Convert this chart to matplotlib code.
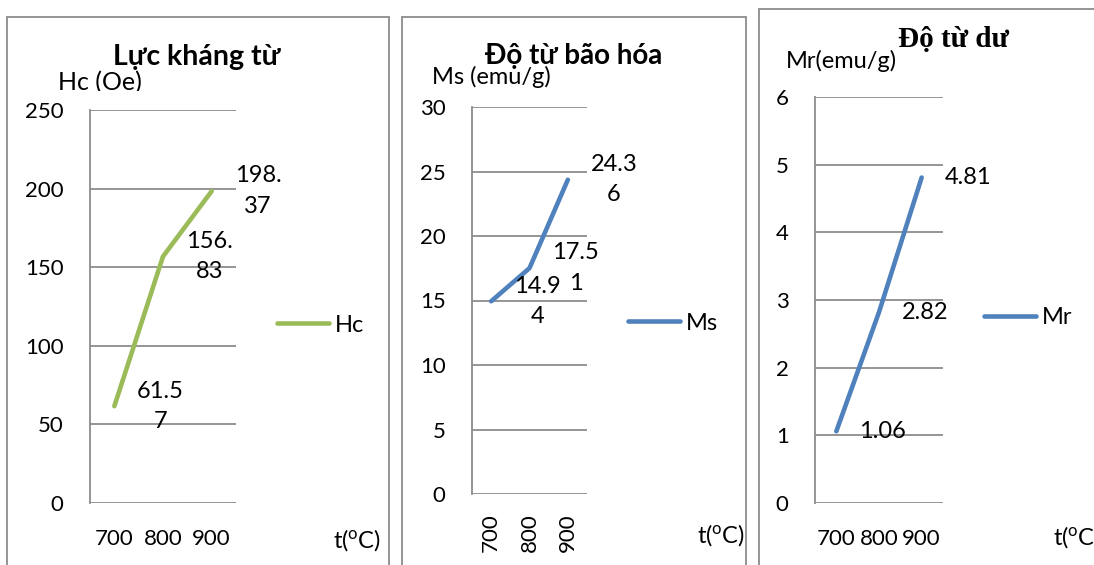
import matplotlib.pyplot as plt
from matplotlib.patches import Rectangle
from matplotlib.transforms import Bbox

plt.rcParams['font.family'] = ['Lato', 'DejaVu Sans']
plt.rcParams['mathtext.fontset'] = 'custom'
plt.rcParams['mathtext.rm'] = 'Lato'

nhiet_do = ['700', '800', '900']
hc = [61.57, 156.83, 198.37]
ms = [14.94, 17.51, 24.36]
mr = [1.06, 2.82, 4.81]

W, H = 1094, 565
fig = plt.figure(figsize=(W / 100, H / 100), dpi=100)

XAM = '#8c8c8c'
XANH_LA = '#9bbb59'
XANH = '#4f81bd'
FS = 16
FS_NHAN = 17


def khung(x0, y0, x1, y1):
    fig.patches.append(Rectangle((x0 / W, 1 - y1 / H), (x1 - x0) / W, (y1 - y0) / H,
                                 transform=fig.transFigure, fill=False, ec=XAM, lw=1.3))


def chu(x, y, s, **kw):
    return fig.text(x / W, 1 - y / H, s, **kw)


def nhan(v):
    # Excel bẻ dòng nhãn dữ liệu sau 4 ký tự
    s = f'{v:g}'
    return s if len(s) <= 4 else s[:4] + '\n' + s[4:]


def do_thi(hop, y, mau, ten, ymax, buoc, xoay=False):
    l, t, r, b = hop
    ax = fig.add_axes([l / W, 1 - b / H, (r - l) / W, (b - t) / H])
    x = range(len(nhiet_do))
    ax.plot(x, y, color=mau, lw=3.3, solid_capstyle='round', label=ten)
    for xi, yi in zip(x, y):
        ax.annotate(nhan(yi), (xi, yi), xytext=(16.5, 0), textcoords='offset points',
                    ha='left', va='center', multialignment='center',
                    fontsize=FS_NHAN, linespacing=1.55)
    ax.set_xlim(-0.5, len(nhiet_do) - 0.5)
    ax.set_ylim(0, ymax)
    ax.set_yticks(range(0, ymax + 1, buoc))
    ax.set_xticks(list(x))
    ax.set_xticklabels(nhiet_do, rotation=90 if xoay else 0)
    ax.tick_params(length=0, labelsize=FS, colors='black')
    ax.tick_params(axis='y', pad=19)
    ax.tick_params(axis='x', pad=14 if xoay else 19)
    ax.yaxis.grid(True, color=XAM, lw=1.3)
    ax.set_axisbelow(True)
    for s in ['top', 'right', 'bottom']:
        ax.spines[s].set_visible(False)
    ax.spines['left'].set_color(XAM)
    ax.spines['left'].set_linewidth(1.3)
    ax.patch.set_visible(False)
    return ax


def chu_giai(ax, x, y):
    ax.legend(loc='center left', bbox_to_anchor=(x / W, 1 - y / H), bbox_transform=fig.transFigure,
              frameon=False, fontsize=FS_NHAN, handlelength=2.2, handletextpad=0.25,
              borderpad=0, borderaxespad=0)


nhan_t = r'$\mathregular{t(^{o}C)}$'

# Lực kháng từ
khung(7, 17, 389, 580)
ax1 = do_thi((90, 110, 236, 503), hc, XANH_LA, 'Hc', 250, 50)
chu_giai(ax1, 277, 325)
t = chu(58, 90, 'Hc (Oe)', fontsize=18, va='baseline')
t.set_clip_box(Bbox.from_extents(0, H - 91, W, H))
chu(197, 57, 'Lực kháng từ', fontsize=20.5, fontweight='bold', ha='center', va='center')
chu(333, 540, nhan_t, fontsize=FS_NHAN, va='center')

# Độ từ bão hòa
khung(402, 17, 746, 580)
ax2 = do_thi((472, 107, 587, 494), ms, XANH, 'Ms', 30, 5, xoay=True)
chu_giai(ax2, 628, 323)
chu(432, 77, 'Ms (emu/g)', fontsize=17, va='center')
chu(574, 56, 'Độ từ bão hóa', fontsize=20, fontweight='bold', ha='center', va='center')
chu(697, 535, nhan_t, fontsize=FS_NHAN, va='center')

# Độ từ dư
khung(759, 9, 1110, 580)
ax3 = do_thi((815, 97, 943, 503), mr, XANH, 'Mr', 6, 1)
chu_giai(ax3, 984, 318)
chu(786, 61, 'Mr(emu/g)', fontsize=17, va='center')
chu(953, 40, 'Độ từ dư', fontsize=21, fontweight='bold', ha='center', va='center',
    family='Liberation Serif')
chu(1053, 537, nhan_t, fontsize=FS_NHAN, va='center')

fig.savefig('out.png', dpi=100)
